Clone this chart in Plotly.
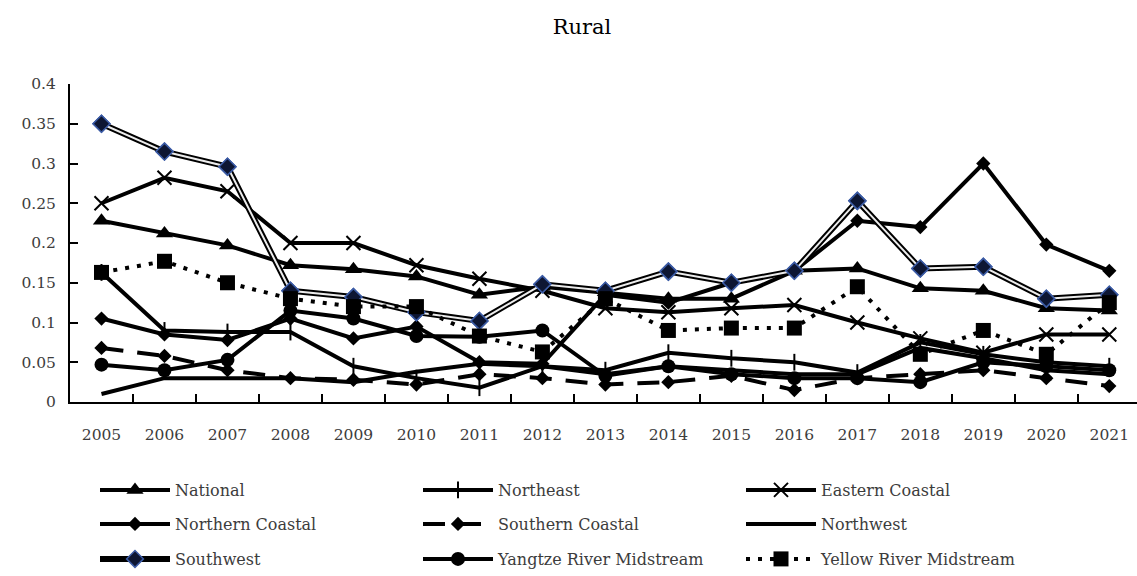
import plotly.graph_objects as go

# Rural index by region, 2005-2021
years = [str(y) for y in range(2005, 2022)]

national = [0.228, 0.212, 0.197, 0.172, 0.167, 0.158, 0.135, 0.145, 0.138, 0.130, 0.130, 0.165, 0.168, 0.143, 0.140, 0.118, 0.115]
northeast = [0.163, 0.090, 0.088, 0.088, 0.045, 0.030, 0.018, 0.045, 0.040, 0.062, 0.055, 0.050, 0.037, 0.075, 0.060, 0.050, 0.045]
eastern_coastal = [0.250, 0.282, 0.265, 0.200, 0.200, 0.172, 0.155, 0.140, 0.118, 0.113, 0.118, 0.122, 0.100, 0.080, 0.062, 0.085, 0.085]
northern_coastal = [0.105, 0.085, 0.078, 0.105, 0.080, 0.095, 0.050, 0.048, 0.135, 0.125, 0.150, 0.165, 0.228, 0.220, 0.300, 0.198, 0.165]
southern_coastal = [0.068, 0.058, 0.040, 0.030, 0.028, 0.022, 0.035, 0.030, 0.022, 0.025, 0.033, 0.015, 0.030, 0.035, 0.040, 0.030, 0.020]
northwest = [0.010, 0.030, 0.030, 0.030, 0.025, 0.038, 0.048, 0.045, 0.035, 0.045, 0.040, 0.035, 0.035, 0.068, 0.055, 0.040, 0.035]
southwest = [0.350, 0.315, 0.296, 0.140, 0.132, 0.113, 0.102, 0.148, 0.140, 0.164, 0.150, 0.165, 0.253, 0.168, 0.170, 0.130, 0.135]
yangtze = [0.047, 0.040, 0.053, 0.115, 0.105, 0.083, 0.082, 0.090, 0.033, 0.045, 0.035, 0.030, 0.030, 0.025, 0.050, 0.045, 0.040]
yellow_river = [0.163, 0.177, 0.150, 0.130, 0.120, 0.120, 0.083, 0.063, 0.130, 0.090, 0.093, 0.093, 0.145, 0.060, 0.090, 0.060, 0.125]

y_ticks = [0, 0.05, 0.1, 0.15, 0.2, 0.25, 0.3, 0.35, 0.4]
y_tick_text = ["0", "0.05", "0.1", "0.15", "0.2", "0.25", "0.3", "0.35", "0.4"]

SERIF = "DejaVu Serif"
TEXT_GREY = "#3c3c3c"
BLACK = "#000000"
LW = 4
SW_MARKER = dict(symbol="diamond", size=13, color="#0d1633", line=dict(color="#3b5ba5", width=1.5))

fig = go.Figure()


def add_line(name, values, legend, marker=None, dash="solid", width=LW):
    mode = "lines+markers" if marker else "lines"
    fig.add_trace(go.Scatter(
        x=years, y=values, name=name, mode=mode,
        line=dict(color=BLACK, width=width, dash=dash),
        marker=marker or {},
        legend=legend,
    ))


# Row 1 of the key
add_line("National", national, "legend",
         marker=dict(symbol="triangle-up", size=15, color=BLACK))
add_line("Northeast", northeast, "legend",
         marker=dict(symbol="line-ns", size=12, line=dict(color=BLACK, width=2)))
add_line("Eastern Coastal", eastern_coastal, "legend",
         marker=dict(symbol="x-thin", size=14, line=dict(color=BLACK, width=2)))

# Row 2 of the key
add_line("Northern Coastal", northern_coastal, "legend2",
         marker=dict(symbol="diamond", size=11, color=BLACK))
add_line("Southern Coastal", southern_coastal, "legend2",
         marker=dict(symbol="diamond", size=11, color=BLACK), dash="22px,14px")
add_line("Northwest", northwest, "legend2")

# Row 3 of the key; Southwest is a double-rule line (black outline, light core)
fig.add_trace(go.Scatter(
    x=years, y=southwest, name="Southwest", mode="lines+markers",
    line=dict(color=BLACK, width=6), marker=SW_MARKER, legend="legend3",
))
fig.add_trace(go.Scatter(
    x=years, y=southwest, mode="lines", showlegend=False, hoverinfo="skip",
    line=dict(color="#ececec", width=2),
))
fig.add_trace(go.Scatter(
    x=years, y=southwest, mode="markers", showlegend=False, hoverinfo="skip",
    marker=SW_MARKER,
))
add_line("Yangtze River Midstream", yangtze, "legend3",
         marker=dict(symbol="circle", size=14, color=BLACK))
add_line("Yellow River Midstream", yellow_river, "legend3",
         marker=dict(symbol="square", size=15, color=BLACK), dash="4px,8px")

legend_common = dict(
    orientation="h", xref="container", yref="container",
    xanchor="left", yanchor="middle",
    font=dict(family=SERIF, size=16, color=TEXT_GREY),
    entrywidth=238, entrywidthmode="pixels", itemwidth=70,
    bgcolor="rgba(0,0,0,0)", traceorder="normal",
)

fig.update_layout(
    width=1137, height=576,
    paper_bgcolor="white", plot_bgcolor="white",
    font=dict(family=SERIF),
    margin=dict(l=70, r=0, t=84, b=174),
    title=dict(text="Rural", x=582 / 1137, xref="container", xanchor="center",
               y=1 - 27 / 576, yref="container", yanchor="middle",
               font=dict(family=SERIF, size=21, color=BLACK)),
    xaxis=dict(
        type="category", categoryorder="array", categoryarray=years,
        range=[-0.5, 16.44], showgrid=False, zeroline=False,
        showline=True, linecolor=BLACK, linewidth=2,
        ticks="inside", ticklen=8, tickwidth=1.5, tickcolor=BLACK,
        tickson="boundaries", ticklabelstandoff=17,
        tickfont=dict(family=SERIF, size=15.5, color=TEXT_GREY),
    ),
    yaxis=dict(
        range=[0, 0.4], tickvals=y_ticks, ticktext=y_tick_text,
        showgrid=False, zeroline=False,
        showline=True, linecolor=BLACK, linewidth=2,
        ticks="inside", ticklen=8, tickwidth=1.5, tickcolor=BLACK,
        ticklabelstandoff=9,
        tickfont=dict(family=SERIF, size=15.5, color=TEXT_GREY),
    ),
    legend=dict(x=95 / 1137, y=1 - 490 / 576, **legend_common),
    legend2=dict(x=95 / 1137, y=1 - 524 / 576, **legend_common),
    legend3=dict(x=95 / 1137, y=1 - 559 / 576, **legend_common),
    showlegend=True,
)

fig.write_html("out.html")
